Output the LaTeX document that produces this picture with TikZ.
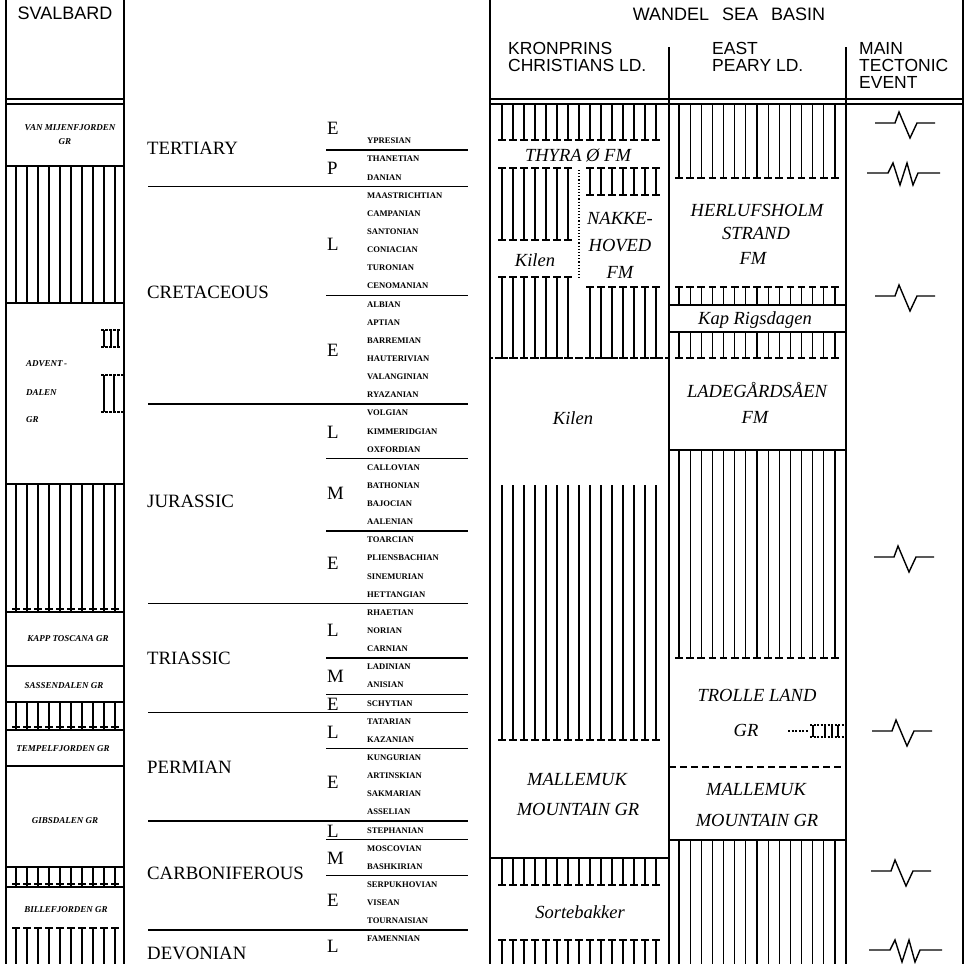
\documentclass[tikz,border=0pt]{standalone}
\usepackage{fontspec}
\setmainfont{Liberation Serif}
\newfontfamily\hv{Liberation Sans}
\newcommand\vhatch[5]{\foreach \k in {#3} {\draw[hl] ({#1+#2*\k},#4) -- ({#1+#2*\k},#5);}}
\newcommand\tickrow[4]{\foreach \k in {#3} {\draw[hl] ({#1+#2*\k-3.8},#4) -- ({#1+#2*\k+3.8},#4);}}
\newcommand\tecS[2]{\draw[tec] (#1,#2) -- ++(20,0) -- ++(4,-11) -- ++(11,26) -- ++(7,-15) -- ++(18,0);}
\newcommand\tecD[2]{\draw[tec] (#1,#2) -- ++(21,0) -- ++(5,-10) -- ++(7,22) -- ++(7,-22) -- ++(6,22) -- ++(5,-12) -- ++(22,0);}
\begin{document}
\begin{tikzpicture}[x=1pt,y=-1pt,
  border/.style={line width=1.5pt},
  hl/.style={line width=1.15pt},
  rule/.style={line width=1.3pt},
  tec/.style={line width=1.4pt, line join=miter},
  hdr/.style={font=\hv\fontsize{18}{18}\selectfont, inner sep=0pt, text height=12.9pt, text depth=0pt},
  hdrm/.style={font=\hv\fontsize{17.5}{17}\selectfont, inner sep=0pt, align=left, anchor=north west},
  per/.style={font=\fontsize{18.8}{18.8}\selectfont, anchor=west, inner sep=0pt, text height=12.4pt, text depth=0pt},
  stg/.style={font=\bfseries\fontsize{8.6}{8.6}\selectfont, anchor=west, inner sep=0pt, text height=5.7pt, text depth=0pt},
  sv/.style={font=\bfseries\itshape\fontsize{9}{9}\selectfont, inner sep=0pt, text height=6pt, text depth=0pt},
  fm/.style={font=\itshape\fontsize{18.5}{18.5}\selectfont, inner sep=0pt, text height=12.2pt, text depth=0pt}]
\useasboundingbox (0,0) rectangle (964,964);
% ---------- frame ----------
\draw[border] (6,0) -- (6,964);
\draw[border] (124,0) -- (124,964);
\draw[border] (490,0) -- (490,964);
\draw[border] (669,47) -- (669,964);
\draw[border] (846,47) -- (846,964);
\draw[border] (963,0) -- (963,964);
\foreach \y in {99,104} {\draw[border] (6,\y) -- (124,\y); \draw[border] (490,\y) -- (963,\y);}
% ---------- headers ----------
\node[hdr] (svh) at (65,13) {SVALBARD};
\node[hdr] (wsb) at (729,14) {WANDEL\kern8pt\ SEA\kern8pt\ BASIN};
\node[hdrm] (kc) at (508,42.5) {KRONPRINS\\CHRISTIANS LD.};
\node[hdrm] (ep) at (712,42.5) {EAST\\PEARY LD.};
\node[hdrm] (mt) at (859,42.5) {MAIN\\TECTONIC\\EVENT};
% ---------- time scale ----------
\foreach \s [count=\i from 0] in {YPRESIAN,THANETIAN,DANIAN,MAASTRICHTIAN,CAMPANIAN,SANTONIAN,CONIACIAN,TURONIAN,CENOMANIAN,ALBIAN,APTIAN,BARREMIAN,HAUTERIVIAN,VALANGINIAN,RYAZANIAN,VOLGIAN,KIMMERIDGIAN,OXFORDIAN,CALLOVIAN,BATHONIAN,BAJOCIAN,AALENIAN,TOARCIAN,PLIENSBACHIAN,SINEMURIAN,HETTANGIAN,RHAETIAN,NORIAN,CARNIAN,LADINIAN,ANISIAN,SCHYTIAN,TATARIAN,KAZANIAN,KUNGURIAN,ARTINSKIAN,SAKMARIAN,ASSELIAN,STEPHANIAN,MOSCOVIAN,BASHKIRIAN,SERPUKHOVIAN,VISEAN,TOURNAISIAN,FAMENNIAN}
  {\node[stg] (st\i) at (367,{141+18.136*\i}) {\s};}
\foreach \j in {0,8,17,21,28,30,33,38,40}
  {\draw[rule] (326,{141+18.136*(\j+0.5)}) -- (468,{141+18.136*(\j+0.5)});}
\foreach \j in {2,14,25,31,37,43}
  {\draw[rule] (148,{141+18.136*(\j+0.5)}) -- (468,{141+18.136*(\j+0.5)});}
\node[per] (p1) at (147,148) {TERTIARY};
\node[per] (p2) at (147,292) {CRETACEOUS};
\node[per] (p3) at (147,501) {JURASSIC};
\node[per] (p4) at (147,658) {TRIASSIC};
\node[per] (p5) at (147,767) {PERMIAN};
\node[per] (p6) at (147,873) {CARBONIFEROUS};
\node[per] (p7) at (147,953) {DEVONIAN};
\foreach \l/\y [count=\n] in {E/128,P/168,L/244,E/350,L/432,M/493,E/563,L/630,M/676,E/704,L/732,E/782,L/831,M/858,E/900,L/946}
  {\node[per] (e\n) at (327,\y) {\l};}
% ---------- Svalbard ----------
\foreach \y in {166,303,484,612,666,702,730,766,867,887} {\draw[rule] (6,\y) -- (124,\y);}
\vhatch{16}{11}{0,...,9}{166}{303}
\vhatch{16}{11}{0,...,9}{484}{612}
\tickrow{16}{11}{0,...,9}{609}
\vhatch{16}{11}{0,...,9}{702}{730}
\tickrow{16}{11}{0,...,9}{727}
\vhatch{16}{11}{0,...,9}{867}{887}
\tickrow{16}{11}{0,...,9}{884}
\vhatch{16}{11}{0,...,9}{928}{964}
\tickrow{16}{11}{0,...,9}{928}
% small lenses in Adventdalen
\foreach \x in {104,111,118} {\draw[hl] (\x,330) -- (\x,347);}
\draw[hl,dash pattern=on 2.5pt off 1.5pt] (101,330) -- (121,330) (101,347) -- (121,347);
\foreach \x in {104,114} {\draw[hl] (\x,375) -- (\x,412);}
\draw[hl,dash pattern=on 2.5pt off 1.5pt] (101,375) -- (123,375) (101,412) -- (123,412);
\node[sv] (s1a) at (70,127) {VAN MIJENFJORDEN};
\node[sv] (s1b) at (65,141) {GR};
\node[sv,anchor=west] (s2a) at (26,363) {ADVENT\,-};
\node[sv,anchor=west] (s2b) at (26,392) {DALEN};
\node[sv,anchor=west] (s2c) at (26,419) {GR};
\node[sv] (s3) at (68,638) {KAPP TOSCANA GR};
\node[sv] (s4) at (64,685) {SASSENDALEN GR};
\node[sv] (s5) at (63,748) {TEMPELFJORDEN GR};
\node[sv] (s6) at (65,820) {GIBSDALEN GR};
\node[sv] (s7) at (66,909) {BILLEFJORDEN GR};
% ---------- Kronprins Christians Land ----------
\vhatch{502}{11}{0,...,14}{104}{140}
\tickrow{502}{11}{0,...,14}{140}
\vhatch{502}{11}{0,...,6}{168}{240}
\tickrow{502}{11}{0,...,6}{168}
\tickrow{502}{11}{0,...,6}{240}
\vhatch{502}{11}{8,...,14}{168}{195}
\tickrow{502}{11}{8,...,14}{168}
\tickrow{502}{11}{8,...,14}{195}
\draw[hl,dotted] (579,170) -- (579,280);
\vhatch{502}{11}{0,...,6}{277}{358}
\tickrow{502}{11}{0,...,6}{277}
\vhatch{502}{11}{8,...,14}{287}{358}
\tickrow{502}{11}{8,...,14}{287}
\tickrow{502}{11}{0,...,14}{358}
\draw[hl,dash pattern=on 3pt off 2pt] (490,358) -- (669,358);
\vhatch{502}{11}{0,...,14}{485}{740}
\tickrow{502}{11}{0,...,14}{740}
\draw[rule] (490,858) -- (669,858);
\vhatch{502}{11}{0,...,14}{858}{885}
\tickrow{502}{11}{0,...,14}{885}
\vhatch{502}{11}{0,...,14}{940}{964}
\tickrow{502}{11}{0,...,14}{940}
\node[fm] (thy) at (578,155) {THYRA Ø FM};
\node[fm] (nk1) at (620,218) {NAKKE-};
\node[fm] (nk2) at (620,245) {HOVED};
\node[fm] (nk3) at (620,272) {FM};
\node[fm] (kil1) at (535,260) {Kilen};
\node[fm] (kil2) at (573,418) {Kilen};
\node[fm] (mm1a) at (577,779) {MALLEMUK};
\node[fm] (mm1b) at (578,809) {MOUNTAIN GR};
\node[fm] (srt) at (580,912) {Sortebakker};
% ---------- East Peary Land ----------
\vhatch{679}{11.14}{0,...,14}{104}{178}
\tickrow{679}{11.14}{0,...,14}{178}
\vhatch{679}{11.14}{0,...,14}{287}{305}
\tickrow{679}{11.14}{0,...,14}{287}
\draw[rule] (669,305) -- (846,305);
\draw[rule] (669,332) -- (846,332);
\vhatch{679}{11.14}{0,...,14}{332}{358}
\tickrow{679}{11.14}{0,...,14}{358}
\draw[rule] (669,450) -- (846,450);
\vhatch{679}{11.14}{0,...,14}{450}{658}
\tickrow{679}{11.14}{0,...,14}{658}
\draw[rule,dash pattern=on 7pt off 4pt] (669,767) -- (846,767);
\draw[rule] (669,840) -- (846,840);
\vhatch{679}{11.14}{0,...,14}{840}{964}
% small lens in Trolle Land
\draw[hl,dash pattern=on 2pt off 1.5pt] (788,731) -- (808,731);
\foreach \x in {813,825,832,838} {\draw[hl] (\x,725) -- (\x,737);}
\draw[hl,dash pattern=on 2pt off 1.5pt] (810,725) -- (845,725) (810,737) -- (845,737);
\node[fm] (hs1) at (757,210) {HERLUFSHOLM};
\node[fm] (hs2) at (756,233) {STRAND};
\node[fm] (hs3) at (753,258) {FM};
\node[fm] (kr) at (755,318) {Kap Rigsdagen};
\node[fm] (ld1) at (757,391) {LADEGÅRDSÅEN};
\node[fm] (ld2) at (755,417) {FM};
\node[fm] (tl1) at (757,695) {TROLLE LAND};
\node[fm] (tl2) at (746,730) {GR};
\node[fm] (mm2a) at (756,789) {MALLEMUK};
\node[fm] (mm2b) at (757,820) {MOUNTAIN GR};
% ---------- tectonic events ----------
\tecS{875}{123}
\tecD{867}{173}
\tecS{875}{296}
\tecS{874}{557}
\tecS{872}{731}
\tecS{871}{871}
\tecD{869}{950}
\end{tikzpicture}
\end{document}
